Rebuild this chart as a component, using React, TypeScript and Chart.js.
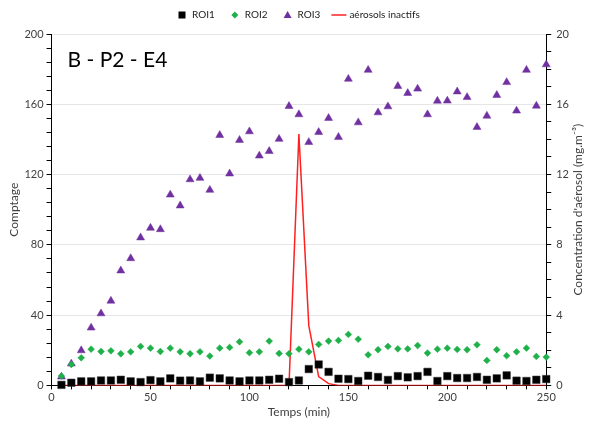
import React, { useEffect, useRef } from "react";
import { Chart, registerables } from "chart.js";

Chart.register(...registerables);

const FONT = "Lato";

const legendLabels = ["ROI1", "ROI2", "ROI3", "aérosols inactifs"];
const chartTitle = "B - P2 - E4";
const xTitle = "Temps (min)";
const yTitle = "Comptage";
const y1Title = "Concentration d'aérosol (mg.m⁻³)";

const times = [
  5, 10, 15, 20, 25, 30, 35, 40, 45, 50,
  55, 60, 65, 70, 75, 80, 85, 90, 95, 100,
  105, 110, 115, 120, 125, 130, 135, 140, 145, 150,
  155, 160, 165, 170, 175, 180, 185, 190, 195, 200,
  205, 210, 215, 220, 225, 230, 235, 240, 245, 250,
];

const roi1 = [
  0.3, 1.5, 2.3, 2.3, 2.8, 2.8, 3.2, 2.3, 1.9, 3.0,
  2.3, 4.0, 2.7, 2.8, 2.3, 4.4, 4.0, 2.8, 2.3, 2.8,
  2.8, 3.2, 3.8, 1.9, 2.8, 9.3, 11.9, 7.7, 3.8, 3.6,
  2.5, 5.5, 4.8, 3.1, 5.3, 4.6, 5.3, 7.7, 2.5, 5.3,
  4.2, 4.2, 4.8, 3.2, 4.0, 5.7, 2.7, 2.5, 3.2, 3.6,
];

const roi2 = [
  5.3, 11.9, 15.7, 20.6, 19.3, 19.7, 18.0, 19.1, 22.2, 21.2,
  19.3, 21.2, 19.1, 18.0, 19.1, 16.7, 21.2, 21.6, 24.8, 18.6,
  19.1, 25.2, 18.2, 18.0, 20.6, 19.1, 23.3, 25.2, 25.6, 29.0,
  26.3, 17.4, 20.3, 22.2, 20.8, 20.8, 22.7, 18.4, 20.6, 21.2,
  20.5, 20.3, 23.1, 14.2, 20.3, 16.9, 19.1, 21.2, 16.5, 16.1,
];

const roi3 = [
  4.9, 12.3, 19.9, 32.8, 40.9, 48.1, 65.3, 72.3, 84.1, 89.6,
  88.8, 108.5, 102.3, 117.2, 118.0, 111.2, 142.4, 120.5, 139.6, 144.5,
  130.7, 133.3, 140.2, 158.9, 154.2, 138.4, 144.1, 152.1, 141.3, 174.4,
  149.6, 179.5, 155.3, 158.7, 170.3, 166.3, 168.8, 154.2, 161.9, 162.0,
  167.2, 164.0, 147.0, 153.4, 165.2, 172.5, 156.3, 179.5, 159.1, 182.6,
];

const aerosol = [
  0, 0, 0, 0, 0, 0, 0, 0, 0, 0,
  0, 0, 0, 0, 0, 0, 0, 0, 0, 0,
  0, 0, 0, 0, 14.3, 3.4, 0.5, 0.1, 0, 0,
  0, 0, 0, 0, 0, 0, 0, 0, 0, 0,
  0, 0, 0, 0, 0, 0, 0, 0, 0, 0,
];

const COLORS = {
  roi1: "#000000",
  roi2: "#1fb04a",
  roi3: "#7030a0",
  aerosol: "#ff2020",
  text: "#404040",
  grid: "#e6e6e6",
};

const toPoints = (ys: number[]) => times.map((t, i) => ({ x: t, y: ys[i] }));

function drawMarker(ctx: CanvasRenderingContext2D, kind: string, x: number, y: number, color: string) {
  ctx.save();
  ctx.fillStyle = color;
  ctx.strokeStyle = color;
  ctx.beginPath();
  if (kind === "rect") {
    ctx.rect(x - 3.5, y - 3.5, 7, 7);
    ctx.fill();
  } else if (kind === "rectRot") {
    ctx.moveTo(x, y - 3.5);
    ctx.lineTo(x + 3.5, y);
    ctx.lineTo(x, y + 3.5);
    ctx.lineTo(x - 3.5, y);
    ctx.closePath();
    ctx.fill();
  } else if (kind === "triangle") {
    ctx.moveTo(x, y - 4);
    ctx.lineTo(x + 4, y + 3);
    ctx.lineTo(x - 4, y + 3);
    ctx.closePath();
    ctx.fill();
  } else {
    ctx.lineWidth = 1.5;
    ctx.moveTo(x - 7.5, y);
    ctx.lineTo(x + 7.5, y);
    ctx.stroke();
  }
  ctx.restore();
}

const overlayPlugin = {
  id: "overlay",
  afterDraw(chart: any) {
    const ctx: CanvasRenderingContext2D = chart.ctx;
    const area = chart.chartArea;
    ctx.save();
    // custom legend
    ctx.font = `10px ${FONT}`;
    ctx.textBaseline = "middle";
    ctx.textAlign = "left";
    const kinds = ["rect", "rectRot", "triangle", "line"];
    const colors = [COLORS.roi1, COLORS.roi2, COLORS.roi3, COLORS.aerosol];
    const markerHalf = [4, 4, 4, 7.5];
    const textGap = [6, 6, 6, 3];
    const gapBefore = [0, 16, 16, 11];
    const widths = legendLabels.map((l) => ctx.measureText(l).width);
    let x = 178;
    const ly = 15;
    legendLabels.forEach((l, i) => {
      x += gapBefore[i];
      drawMarker(ctx, kinds[i], x + markerHalf[i], ly, colors[i]);
      x += markerHalf[i] * 2 + textGap[i];
      ctx.fillStyle = "#222";
      ctx.fillText(l, x, ly);
      x += widths[i];
    });

    // title inside chart
    ctx.font = `21px ${FONT}`;
    ctx.fillStyle = "#000";
    ctx.textBaseline = "middle";
    ctx.fillText(chartTitle, area.left + 16, area.top + 26);

    // right axis title (reads bottom to top)
    ctx.font = `12px ${FONT}`;
    ctx.fillStyle = COLORS.text;
    ctx.translate(578, (area.top + area.bottom) / 2);
    ctx.rotate(-Math.PI / 2);
    ctx.textAlign = "center";
    ctx.textBaseline = "middle";
    ctx.fillText(y1Title, 0, 0);
    ctx.restore();
  },
};

export default function App() {
  const ref = useRef<HTMLCanvasElement | null>(null);

  useEffect(() => {
    if (!ref.current) return;
    Chart.defaults.font.family = FONT;
    Chart.defaults.color = COLORS.text;
    const chart = new Chart(ref.current, {
      type: "scatter",
      data: {
        datasets: [
          {
            label: legendLabels[0],
            data: toPoints(roi1),
            pointStyle: "rect",
            pointRadius: 5.3,
            backgroundColor: COLORS.roi1,
            borderColor: "#333",
            borderWidth: 0.5,
            clip: false,
            yAxisID: "y",
          },
          {
            label: legendLabels[1],
            data: toPoints(roi2),
            pointStyle: "rectRot",
            pointRadius: 3.4,
            backgroundColor: COLORS.roi2,
            borderColor: COLORS.roi2,
            borderWidth: 0.5,
            clip: false,
            yAxisID: "y",
          },
          {
            label: legendLabels[2],
            data: toPoints(roi3),
            pointStyle: "triangle",
            pointRadius: 4.6,
            backgroundColor: COLORS.roi3,
            borderColor: COLORS.roi3,
            borderWidth: 0.5,
            clip: false,
            yAxisID: "y",
          },
          {
            type: "line",
            label: legendLabels[3],
            data: toPoints(aerosol),
            borderColor: COLORS.aerosol,
            backgroundColor: COLORS.aerosol,
            borderWidth: 1.5,
            pointRadius: 0,
            tension: 0,
            fill: false,
            yAxisID: "y1",
          } as any,
        ],
      },
      options: {
        responsive: false,
        animation: false,
        layout: { padding: { top: 34, right: 18, left: 7, bottom: 8 } },
        plugins: {
          legend: { display: false },
          tooltip: { enabled: false },
        },
        scales: {
          x: {
            type: "linear",
            min: 0,
            max: 250,
            border: { color: "#000", width: 1 },
            grid: {
              drawOnChartArea: false,
              color: "#000",
              tickColor: "#000",
              tickLength: 4,
            },
            ticks: {
              stepSize: 10,
              autoSkip: false,
              maxRotation: 0,
              color: COLORS.text,
              font: { size: 11 },
              padding: 1,
              callback: (v: any) => (Number(v) % 50 === 0 ? String(v) : ""),
            },
            title: {
              display: true,
              text: xTitle,
              color: COLORS.text,
              font: { size: 12 },
              padding: { top: 0, bottom: 0 },
            },
          },
          y: {
            type: "linear",
            position: "left",
            min: 0,
            max: 200,
            border: { color: "#000", width: 1 },
            grid: {
              color: (c: any) =>
                c.tick && c.tick.value % 40 === 0 && c.tick.value !== 0 ? COLORS.grid : "rgba(0,0,0,0)",
              tickColor: "#000",
              tickLength: 5,
            },
            ticks: {
              stepSize: 8,
              autoSkip: false,
              color: COLORS.text,
              font: { size: 11 },
              padding: 3,
              callback: (v: any) => (Number(v) % 40 === 0 ? String(v) : ""),
            },
            title: {
              display: true,
              text: yTitle,
              color: COLORS.text,
              font: { size: 12 },
              padding: { top: 0, bottom: 0 },
            },
          },
          y1: {
            type: "linear",
            position: "right",
            min: 0,
            max: 20,
            border: { color: "#000", width: 1 },
            grid: {
              drawOnChartArea: false,
              color: "#000",
              tickColor: "#000",
              tickLength: 5,
            },
            ticks: {
              stepSize: 1,
              autoSkip: false,
              color: COLORS.text,
              font: { size: 11 },
              padding: 5,
              callback: (v: any) => (Number(v) % 4 === 0 ? String(v) : ""),
            },
          },
        },
      },
      plugins: [overlayPlugin],
    });
    return () => chart.destroy();
  }, []);

  return (
    <div style={{ position: "fixed", left: 0, top: 0, width: 592, height: 427, background: "#fff" }}>
      <canvas ref={ref} width={592} height={427} style={{ display: "block" }} />
    </div>
  );
}
